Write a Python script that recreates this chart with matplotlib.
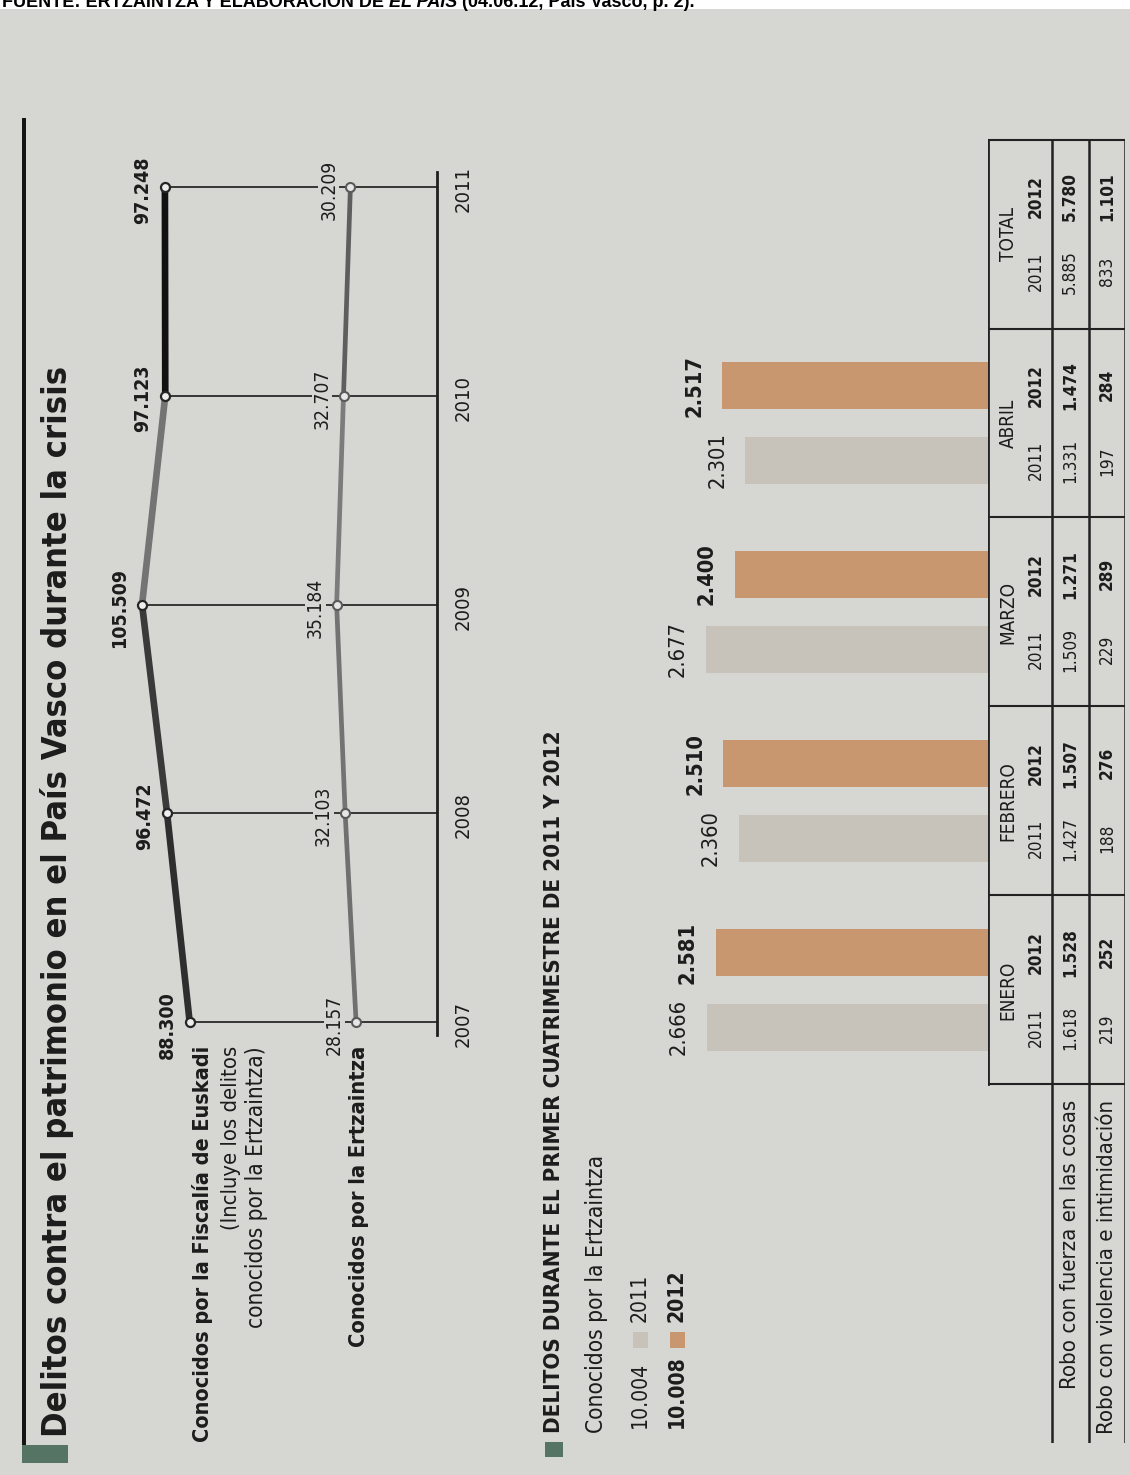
import matplotlib
matplotlib.use('Agg')
import matplotlib.pyplot as plt
from matplotlib.patches import Rectangle
import numpy as np

# ---------------- data ----------------
years = [2007, 2008, 2009, 2010, 2011]
fiscalia = [88300, 96472, 105509, 97123, 97248]
ertzaintza = [28157, 32103, 35184, 32707, 30209]

bar_months = ['ENERO', 'FEBRERO', 'MARZO', 'ABRIL']
bars_2011 = [2666, 2360, 2677, 2301]
bars_2012 = [2581, 2510, 2400, 2517]
legend_years = ['2011', '2012']

table_cols = ['ENERO', 'FEBRERO', 'MARZO', 'ABRIL', 'TOTAL']
table_rows = ['Robo con fuerza en las cosas', 'Robo con violencia e intimidación']
fuerza_2011 = [1618, 1427, 1509, 1331, 5885]
fuerza_2012 = [1528, 1507, 1271, 1474, 5780]
violencia_2011 = [219, 188, 229, 197, 833]
violencia_2012 = [252, 276, 289, 284, 1101]

title = 'Delitos contra el patrimonio en el País Vasco durante la crisis'
serie1 = 'Conocidos por la Fiscalía de Euskadi'
serie1_note = ['(Incluye los delitos', 'conocidos por la Ertzaintza)']
serie2 = 'Conocidos por la Ertzaintza'
subtitle = 'DELITOS DURANTE EL PRIMER CUATRIMESTRE DE 2011 Y 2012'
subsub = 'Conocidos por la Ertzaintza'
source_parts = ['FUENTE: ERTZAINTZA Y ELABORACIÓN DE ', 'EL PAÍS', ' (04.06.12, País Vasco, p. 2).']

# ---------------- style ----------------
W, H, DPI = 1130, 1475, 100
PAPER = '#d6d6d3'
INK = '#1c1c1c'
GREEN = '#557463'
C2011 = '#c7c3bb'
C2012 = '#c8976f'
COND = ['Liberation Sans Narrow', 'DejaVu Sans']
SANS = ['Liberation Sans', 'DejaVu Sans']


def fmt(v):
    return f'{v:,}'.replace(',', '.')


fig = plt.figure(figsize=(W / DPI, H / DPI), dpi=DPI, facecolor=PAPER)
renderer = fig.canvas.get_renderer()


def rect(x0, y0, x1, y1, color, z=1):
    fig.add_artist(Rectangle((x0 / W, 1 - y1 / H), (x1 - x0) / W, (y1 - y0) / H,
                             transform=fig.transFigure, facecolor=color,
                             edgecolor='none', zorder=z))


def axrect(x0, y0, x1, y1):
    return [x0 / W, 1 - y1 / H, (x1 - x0) / W, (y1 - y0) / H]


def vtext(x, y, s, size=14, weight='normal', align='left', family=COND, **kw):
    return fig.text(x / W, 1 - y / H, s, rotation=90, rotation_mode='anchor',
                    ha=align, va='center', fontsize=size, fontweight=weight,
                    family=family, fontstretch='condensed', color=INK, **kw)


def fit(t, length, horizontal=False):
    bb = t.get_window_extent(renderer=renderer)
    L = bb.width if horizontal else bb.height
    t.set_fontsize(t.get_fontsize() * length / L)
    return t.get_fontsize()


def size_for(s, length, weight='normal'):
    t = fig.text(0, 0, s, rotation=90, fontsize=20, fontweight=weight,
                 family=COND, fontstretch='condensed')
    sz = fit(t, length)
    t.remove()
    return sz


# top white strip with source line (cut at the top edge, as in the scan)
rect(0, 0, W, 9, 'white', z=0)
xpos = 2
for i, part in enumerate(source_parts):
    t = fig.text(xpos / W, 1 - 7 / H, part, ha='left', va='baseline', fontsize=13,
                 fontweight='bold', fontstyle='italic' if i == 1 else 'normal',
                 family=SANS, color='black')
    xpos += t.get_window_extent(renderer=renderer).width

# title block
rect(22, 118, 26, 1445, '#151515', z=2)
rect(22, 1445, 68, 1463, GREEN, z=2)
fit(vtext(57, 1437, title, 28, 'bold'), 1069)

# series labels
fit(vtext(203, 1046, serie1, 16, 'bold', align='right'), 395)
fit(vtext(231, 1046, serie1_note[0], 16, align='right'), 185)
fit(vtext(257, 1046, serie1_note[1], 16, align='right'), 283)
fit(vtext(359, 1046, serie2, 16, 'bold', align='right'), 302)

# ---------------- line chart ----------------
ax1 = fig.add_axes(axrect(100, 172, 437, 1035))
ax1.set_facecolor('none')
px_per_unit = 2.767 / 1000
ax1.set_xlim(-1084 + 337 / px_per_unit, -1084)
ax1.set_ylim(2007 - 13 / 208.75, 2011 + 15 / 208.75)
for s in ['top', 'left', 'bottom']:
    ax1.spines[s].set_visible(False)
ax1.spines['right'].set_linewidth(2)
ax1.spines['right'].set_color('#202020')
ax1.set_xticks([])
ax1.set_yticks([])

x_axis = ax1.get_xlim()[1]
ax1.hlines(years, fiscalia, x_axis, color='#2a2a2a', lw=1.3, zorder=1)

fisc_cols = ['#2e2e2e', '#3a3a3a', '#747474', '#111111']
ertz_cols = ['#707070', '#737373', '#7c7c7c', '#5e5e5e']
for i in range(len(years) - 1):
    ax1.plot(fiscalia[i:i + 2], years[i:i + 2], color=fisc_cols[i], lw=4.8,
             solid_capstyle='round', zorder=3)
    ax1.plot(ertzaintza[i:i + 2], years[i:i + 2], color=ertz_cols[i], lw=3.4,
             solid_capstyle='round', zorder=3)
ax1.plot(fiscalia, years, 'o', ms=6.5, mfc='#eeeeee', mec='#262626', mew=1.6, zorder=4)
ax1.plot(ertzaintza, years, 'o', ms=6.5, mfc='#e6e6e6', mec='#5a5a5a', mew=1.5, zorder=4)

fs_f = size_for('105.509', 80, 'bold')
fs_e = size_for('30.209', 60)
fs_y = size_for('2008', 46)
for v, yr in zip(fiscalia, years):
    ax1.annotate(fmt(v), xy=(v, yr), xytext=(-13, -3), textcoords='offset pixels',
                 rotation=90, rotation_mode='anchor', ha='center', va='bottom',
                 fontsize=fs_f, fontweight='bold', family=COND,
                 fontstretch='condensed', color=INK, zorder=5)
for v, yr in zip(ertzaintza, years):
    ax1.annotate(fmt(v), xy=(v, yr), xytext=(-12, -3), textcoords='offset pixels',
                 rotation=90, rotation_mode='anchor', ha='center', va='bottom',
                 fontsize=fs_e, family=COND, fontstretch='condensed', color=INK,
                 bbox=dict(boxstyle='square,pad=0.05', fc=PAPER, ec='none'), zorder=5)
for yr in years:
    ax1.annotate(str(yr), xy=(1, yr), xycoords=('axes fraction', 'data'),
                 xytext=(26, -2), textcoords='offset pixels', rotation=90,
                 rotation_mode='anchor', ha='center', va='center', fontsize=fs_y,
                 family=COND, fontstretch='condensed', color=INK)

# ---------------- bar chart section header / legend ----------------
rect(545, 1442, 563, 1457, GREEN, z=2)
fit(vtext(554, 1433, subtitle, 16, 'bold'), 705)
fit(vtext(596, 1433, subsub, 16), 280)
fs_leg = size_for('10.004', 66)
rect(633, 1332, 648, 1348, C2011, z=2)
rect(670, 1332, 685, 1348, C2012, z=2)
vtext(640, 1428, fmt(sum(bars_2011)), fs_leg)
vtext(640, 1322, legend_years[0], fs_leg)
vtext(677, 1428, fmt(sum(bars_2012)), fs_leg, 'bold')
vtext(677, 1322, legend_years[1], fs_leg, 'bold')

# ---------------- bar chart ----------------
ax2 = fig.add_axes(axrect(600, 328, 988, 1085))
ax2.set_facecolor('none')
ax2.axis('off')
ax2.set_xlim(388 / 0.1055, 0)
ax2.set_ylim(-0.503, 3.503)
idx = np.arange(len(bar_months))
off, bh = 0.198, 0.249
ax2.barh(idx - off, bars_2011, height=bh, color=C2011)
ax2.barh(idx + off, bars_2012, height=bh, color=C2012)
fs_b = size_for('2.666', 56)
for i in idx:
    ax2.annotate(fmt(bars_2011[i]), xy=(bars_2011[i], i - off), xytext=(-18, 0),
                 textcoords='offset pixels', rotation=90, rotation_mode='anchor',
                 ha='center', va='bottom', fontsize=fs_b, family=COND,
                 fontstretch='condensed', color=INK)
    ax2.annotate(fmt(bars_2012[i]), xy=(bars_2012[i], i + off), xytext=(-18, 0),
                 textcoords='offset pixels', rotation=90, rotation_mode='anchor',
                 ha='center', va='bottom', fontsize=fs_b, fontweight='bold',
                 family=COND, fontstretch='condensed', color=INK)

# ---------------- table ----------------
ax3 = fig.add_axes(axrect(988, 138, 1125, 1443))
ax3.set_facecolor('none')
ax3.axis('off')
ax3.set_xlim(0, 1)
ax3.set_ylim(-2.397, 4.508)
ncol = len(table_cols)
x_head, x_r1, x_r2 = 64 / 137, 101 / 137, 1.0
lc = '#222222'
ax3.plot([0, 0], [-0.5, ncol - 0.5], color=lc, lw=2)
for xx in [x_head, x_r1, x_r2]:
    ax3.plot([xx, xx], [-2.397, ncol - 0.5], color=lc, lw=1.8)
for e in np.arange(ncol + 1) - 0.5:
    ax3.plot([0, 1], [e, e], color=lc, lw=1.5)

fs_m = size_for('FEBRERO', 80)
fs_t = size_for('1.618', 44)
fs_rl = size_for(table_rows[1], 335)
tkw = dict(rotation=90, rotation_mode='anchor', va='center', family=COND,
           fontstretch='condensed', color=INK)
for k in range(ncol):
    ax3.text(20 / 137, k, table_cols[k], ha='center', fontsize=fs_m, **tkw)
    ax3.text(48 / 137, k - 0.2, legend_years[0], ha='center', fontsize=fs_t, **tkw)
    ax3.text(48 / 137, k + 0.2, legend_years[1], ha='center', fontsize=fs_t,
             fontweight='bold', **tkw)
    ax3.text(82 / 137, k - 0.2, fmt(fuerza_2011[k]), ha='center', fontsize=fs_t, **tkw)
    ax3.text(82 / 137, k + 0.2, fmt(fuerza_2012[k]), ha='center', fontsize=fs_t,
             fontweight='bold', **tkw)
    ax3.text(119 / 137, k - 0.2, fmt(violencia_2011[k]), ha='center', fontsize=fs_t, **tkw)
    ax3.text(119 / 137, k + 0.2, fmt(violencia_2012[k]), ha='center', fontsize=fs_t,
             fontweight='bold', **tkw)
ax3.text(82 / 137, -0.582, table_rows[0], ha='right', fontsize=fs_rl, **tkw)
ax3.text(119 / 137, -0.582, table_rows[1], ha='right', fontsize=fs_rl, **tkw)

fig.savefig('out.png', dpi=DPI, facecolor=PAPER)
